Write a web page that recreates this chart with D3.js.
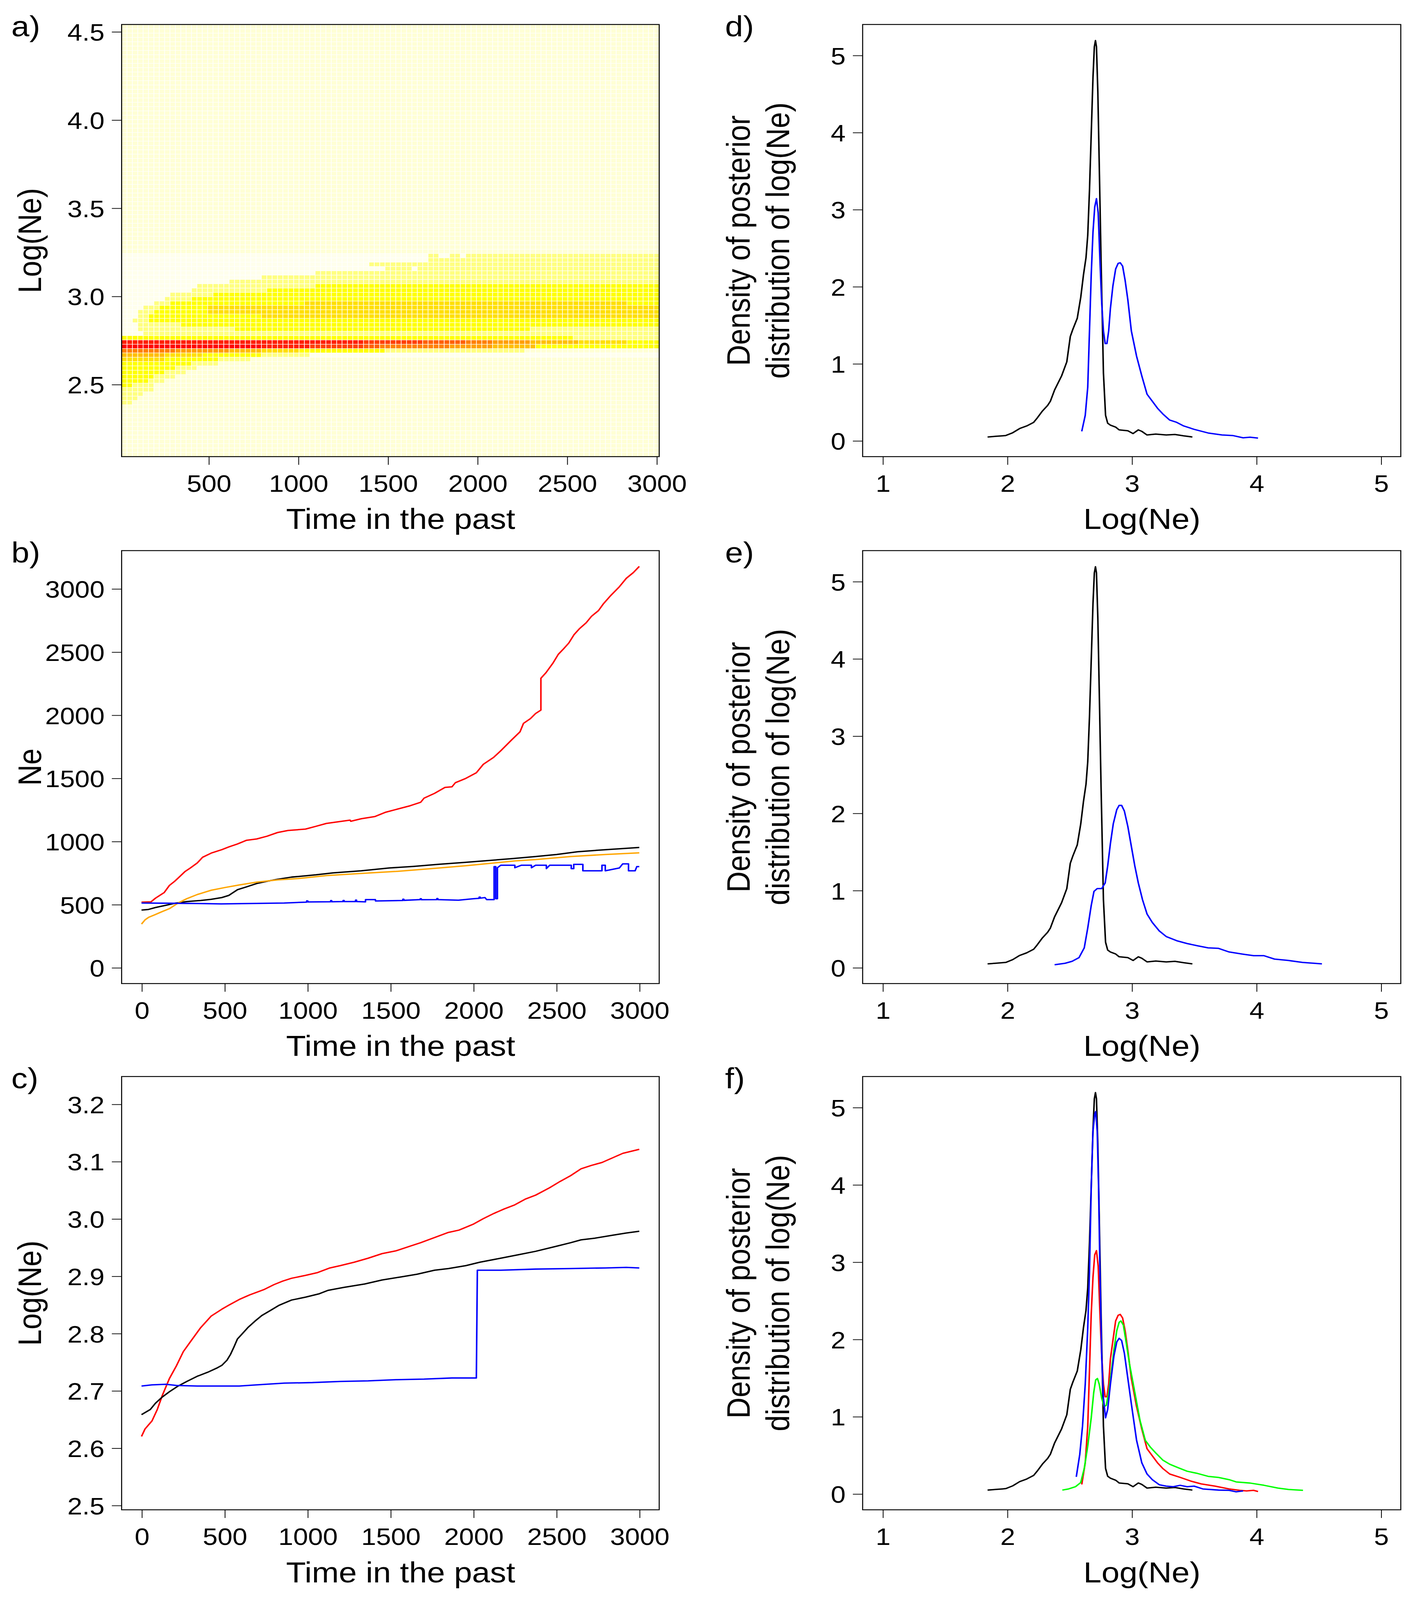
<!DOCTYPE html>
<html>
<head>
<meta charset="utf-8">
<script src="https://cdn.jsdelivr.net/npm/d3@7"></script>
<style>
  html, body { margin: 0; padding: 0; height: 100%; overflow: hidden; background: #fff; }
  #fig, svg { display: block; width: 100vw; height: 100vh; }
</style>
</head>
<body>
<div id="fig"></div>
<script>
// ---- data ----

// a) heat map: 100 time bins x 100 log(Ne) bins, colour level per cell (run-length per row)
const heatTimeFirst = 30, heatTimeStep = 30, heatNCols = 100;
const heatLogMin = 2.09, heatLogStep = 0.0245, heatNRows = 100;
const heatKeys   = ["w", "0", "1", "3", "4", "5", "6", "7", "8", "9", "a", "b"];
const heatColors = ["#FFFFEC", "#FFFFD5", "#FFFF80", "#FFFF00", "#FFDF00", "#FFBF00",
                    "#FF9F00", "#FF8000", "#FF6000", "#FF4000", "#FF2000", "#FF0000"];
const heatFirstRow = 12;
const heatRows = [
  "1*2 0*98",
  "1*3 0*97",
  "1*4 0*96",
  "1*6 0*94",
  "3*2 1*4 0*94",
  "3*5 1*3 0*92",
  "3*6 1*4 0*90",
  "3*8 1*4 0*88",
  "3*10 1*4 0*86",
  "3*13 1*5 0*82",
  "4*8 3*10 1*6 0*76",
  "5*8 4*7 3*11 1*9 w*65",
  "7*10 6*10 5*6 4*7 3*16 1*26 0*25",
  "b*26 a*9 9*10 8*3 7*13 6*8 5*8 3*23",
  "a*45 9*11 8*8 7*5 6*7 5*9 4*9 3*6",
  "3*84 1*16",
  "w*4 1*96",
  "w*3 1*18 3*55 1*24",
  "w*3 1*8 3*89",
  "w*2 1*3 3*95",
  "w*3 1*2 3*21 4*74",
  "w*3 1*3 3*10 4*84",
  "w*4 1*3 3*9 4*84",
  "w*6 1*3 3*25 4*60 3*6",
  "w*8 1*5 3*87",
  "w*9 1*8 3*83",
  "w*13 1*14 3*73",
  "w*14 1*22 3*64",
  "w*20 1*80",
  "w*26 1*74",
  "w*36 1*64",
  "w*49 1*5 w*1 1*45",
  "w*46 1*54",
  "w*57 1*43",
  "w*57 1*2 w*2 1*2 w*1 1*36"
];

// b) Ne through time
const bRed = [[0,518],[57,520],[84,549],[137,594],[168,650],[200,683],[231,721],[263,761],[294,788],[336,828],[368,873],[420,906],[484,933],[526,955],[578,978],[631,1007],[694,1018],[757,1040],[820,1069],[883,1085],[988,1096],[1051,1118],[1114,1141],[1198,1156],[1257,1167],[1261,1158],[1324,1178],[1408,1196],[1472,1230],[1535,1252],[1619,1281],[1682,1308],[1703,1341],[1766,1379],[1829,1426],[1871,1431],[1892,1464],[1955,1498],[2018,1542],[2060,1609],[2123,1665],[2165,1716],[2228,1799],[2281,1866],[2302,1933],[2344,1971],[2375,2011],[2407,2038],[2407,2290],[2438,2335],[2481,2413],[2512,2480],[2544,2524],[2575,2569],[2607,2636],[2638,2681],[2680,2730],[2712,2781],[2754,2826],[2785,2882],[2827,2944],[2880,3015],[2922,3082],[2964,3127],[3000,3176]];
const bBlack = [[0,455],[42,460],[84,475],[147,493],[210,511],[273,522],[357,531],[420,540],[484,554],[526,571],[578,616],[631,638],[694,665],[757,683],[820,699],[904,716],[1051,734],[1156,750],[1324,766],[1493,788],[1640,801],[1787,817],[1955,833],[2060,844],[2228,862],[2375,879],[2502,895],[2628,917],[2796,933],[3000,951]];
const bOrange = [[0,344],[21,377],[42,397],[84,420],[126,444],[168,466],[221,511],[273,545],[336,578],[420,612],[505,634],[589,654],[694,676],[820,694],[946,705],[1114,728],[1324,745],[1535,761],[1745,783],[1955,806],[2165,833],[2249,844],[2375,855],[2586,879],[2796,895],[3000,908]];
const bBlue = [[0,511],[270,508],[480,504],[860,511],[995,518],[995,528],[1002,528],[1002,519],[1140,521],[1140,530],[1146,530],[1146,521],[1215,522],[1215,531],[1221,531],[1221,522],[1290,522],[1290,534],[1296,534],[1296,522],[1350,520],[1350,538],[1410,538],[1410,527],[1575,531],[1575,541],[1581,541],[1581,532],[1680,538],[1680,545],[1686,545],[1686,537],[1780,538],[1780,546],[1786,546],[1786,538],[1910,533],[2000,545],[2035,548],[2035,558],[2041,558],[2041,549],[2070,554],[2080,538],[2125,538],[2125,799],[2135,799],[2135,545],[2145,545],[2145,790],[2165,810],[2250,810],[2250,790],[2290,810],[2350,810],[2350,790],[2375,810],[2440,810],[2440,783],[2460,810],[2590,810],[2590,783],[2605,783],[2605,817],[2660,817],[2660,766],[2775,766],[2775,810],[2795,810],[2795,766],[2880,788],[2900,821],[2935,821],[2935,766],[2975,766],[2985,799],[3000,799]];

// c) log(Ne) through time
const cRed = [[0,2.620],[21,2.633],[42,2.640],[63,2.647],[95,2.667],[126,2.692],[168,2.721],[210,2.743],[252,2.768],[294,2.785],[357,2.810],[420,2.830],[484,2.842],[526,2.849],[589,2.859],[652,2.867],[736,2.876],[799,2.885],[851,2.891],[904,2.896],[988,2.901],[1062,2.906],[1135,2.914],[1198,2.918],[1282,2.924],[1366,2.931],[1450,2.939],[1535,2.944],[1619,2.952],[1682,2.958],[1766,2.967],[1850,2.976],[1913,2.980],[1997,2.990],[2060,3.000],[2123,3.009],[2186,3.017],[2249,3.024],[2312,3.034],[2375,3.041],[2460,3.054],[2523,3.065],[2586,3.075],[2649,3.087],[2712,3.093],[2775,3.098],[2838,3.106],[2901,3.114],[3000,3.121]];
const cBlack = [[0,2.658],[53,2.667],[84,2.678],[126,2.689],[168,2.698],[221,2.708],[273,2.716],[336,2.725],[399,2.732],[452,2.739],[484,2.744],[515,2.753],[536,2.763],[557,2.776],[578,2.790],[610,2.800],[641,2.810],[683,2.821],[725,2.831],[778,2.840],[830,2.849],[904,2.858],[988,2.863],[1072,2.869],[1125,2.875],[1219,2.880],[1345,2.886],[1450,2.893],[1556,2.898],[1661,2.903],[1766,2.910],[1850,2.913],[1955,2.918],[2039,2.924],[2165,2.931],[2270,2.937],[2375,2.943],[2502,2.952],[2586,2.958],[2649,2.963],[2733,2.966],[2838,2.971],[2922,2.975],[3000,2.978]];
const cBlue = [[0,2.708],[63,2.710],[147,2.711],[210,2.709],[336,2.708],[484,2.708],[589,2.708],[694,2.710],[862,2.713],[1030,2.714],[1198,2.716],[1366,2.717],[1535,2.719],[1703,2.720],[1871,2.722],[2018,2.722],[2024,2.910],[2165,2.910],[2375,2.912],[2586,2.913],[2796,2.914],[2922,2.915],[3000,2.914]];

// d-f) posterior densities of log(Ne)
const densBlack = [[1.843,0.047],[1.905,0.055],[1.961,0.062],[1.989,0.066],[2.045,0.102],[2.101,0.157],[2.157,0.190],[2.213,0.237],[2.241,0.292],[2.283,0.383],[2.325,0.456],[2.347,0.511],[2.381,0.657],[2.437,0.839],[2.479,1.022],[2.507,1.350],[2.527,1.442],[2.563,1.588],[2.591,1.861],[2.613,2.153],[2.633,2.372],[2.647,2.664],[2.661,3.248],[2.675,3.978],[2.689,4.708],[2.700,5.109],[2.709,5.190],[2.717,5.109],[2.728,4.526],[2.739,3.613],[2.754,2.336],[2.773,0.876],[2.790,0.328],[2.807,0.226],[2.829,0.201],[2.871,0.175],[2.899,0.139],[2.969,0.128],[3.011,0.091],[3.053,0.139],[3.081,0.120],[3.123,0.073],[3.193,0.084],[3.277,0.073],[3.347,0.080],[3.417,0.062],[3.487,0.047]];
const dBlue = [[2.599,0.120],[2.627,0.328],[2.647,0.693],[2.661,1.423],[2.675,2.153],[2.689,2.701],[2.703,3.029],[2.717,3.139],[2.731,2.956],[2.745,2.336],[2.759,1.788],[2.773,1.423],[2.787,1.259],[2.801,1.259],[2.815,1.423],[2.829,1.715],[2.849,2.007],[2.871,2.226],[2.891,2.299],[2.908,2.307],[2.927,2.263],[2.947,2.080],[2.969,1.825],[2.997,1.423],[3.039,1.095],[3.081,0.839],[3.123,0.602],[3.165,0.511],[3.207,0.420],[3.249,0.347],[3.305,0.266],[3.361,0.237],[3.417,0.190],[3.501,0.146],[3.613,0.099],[3.725,0.073],[3.810,0.066],[3.894,0.036],[3.950,0.044],[4.014,0.033]];
const eBlue = [[2.381,0.036],[2.465,0.055],[2.521,0.080],[2.577,0.128],[2.619,0.255],[2.647,0.511],[2.675,0.803],[2.697,0.985],[2.723,1.022],[2.759,1.022],[2.787,1.095],[2.807,1.314],[2.829,1.606],[2.852,1.861],[2.880,2.044],[2.899,2.099],[2.919,2.099],[2.941,2.026],[2.969,1.825],[2.997,1.569],[3.025,1.314],[3.053,1.095],[3.087,0.876],[3.123,0.693],[3.165,0.584],[3.221,0.474],[3.277,0.401],[3.361,0.347],[3.445,0.310],[3.529,0.281],[3.613,0.255],[3.697,0.248],[3.782,0.201],[3.894,0.172],[3.978,0.153],[4.062,0.153],[4.146,0.109],[4.258,0.091],[4.370,0.066],[4.527,0.047]];
const fBlue = [[2.555,0.218],[2.583,0.509],[2.605,0.873],[2.627,1.418],[2.647,2.145],[2.661,2.873],[2.675,3.964],[2.689,4.691],[2.703,4.909],[2.711,4.945],[2.723,4.691],[2.734,3.964],[2.745,2.873],[2.759,1.782],[2.773,1.236],[2.790,0.982],[2.807,1.091],[2.829,1.418],[2.857,1.782],[2.880,1.964],[2.899,2.011],[2.919,1.982],[2.941,1.818],[2.969,1.491],[2.997,1.164],[3.039,0.691],[3.081,0.400],[3.123,0.255],[3.165,0.182],[3.221,0.116],[3.277,0.098],[3.333,0.091],[3.389,0.109],[3.445,0.091],[3.501,0.098],[3.571,0.062],[3.697,0.047],[3.782,0.044],[3.838,0.025],[3.894,0.036]];
const fRed = [[2.599,0.120],[2.627,0.400],[2.647,0.873],[2.661,1.600],[2.675,2.327],[2.689,2.800],[2.703,3.091],[2.717,3.145],[2.731,2.945],[2.745,2.327],[2.759,1.782],[2.773,1.418],[2.787,1.255],[2.801,1.255],[2.815,1.418],[2.829,1.745],[2.852,2.018],[2.871,2.236],[2.891,2.309],[2.908,2.320],[2.927,2.273],[2.947,2.109],[2.969,1.855],[2.997,1.491],[3.039,1.127],[3.081,0.836],[3.123,0.582],[3.165,0.491],[3.207,0.400],[3.249,0.327],[3.305,0.255],[3.389,0.211],[3.473,0.164],[3.557,0.127],[3.669,0.098],[3.782,0.062],[3.866,0.044],[3.922,0.036],[3.978,0.044],[4.014,0.029]];
const fGreen = [[2.443,0.047],[2.493,0.062],[2.549,0.091],[2.591,0.145],[2.619,0.327],[2.647,0.618],[2.675,0.982],[2.695,1.309],[2.711,1.473],[2.725,1.491],[2.739,1.418],[2.759,1.236],[2.779,1.127],[2.796,1.145],[2.815,1.309],[2.835,1.564],[2.857,1.855],[2.880,2.109],[2.899,2.218],[2.913,2.236],[2.933,2.182],[2.955,1.964],[2.983,1.673],[3.025,1.309],[3.067,0.945],[3.109,0.691],[3.151,0.600],[3.193,0.527],[3.249,0.436],[3.305,0.382],[3.375,0.335],[3.445,0.291],[3.529,0.262],[3.613,0.225],[3.697,0.211],[3.782,0.182],[3.838,0.153],[3.950,0.138],[4.062,0.109],[4.174,0.073],[4.258,0.055],[4.375,0.044]];

// tick labels
const heatTimeTicks = [500, 1000, 1500, 2000, 2500, 3000];
const heatLogTicks = [2.5, 3.0, 3.5, 4.0, 4.5];
const timeTicks = [0, 500, 1000, 1500, 2000, 2500, 3000];
const neTicks = [0, 500, 1000, 1500, 2000, 2500, 3000];
const logNeTicks = [2.5, 2.6, 2.7, 2.8, 2.9, 3.0, 3.1, 3.2];
const densXTicks = [1, 2, 3, 4, 5];
const densYTicks = [0, 1, 2, 3, 4, 5];

// ---- drawing ----
const W = 1245, H = 1568;
const FONT = '"Liberation Sans", Arial, Helvetica, sans-serif';
const TICK_FS = 23.5, LAB_FS = 28.5;
const LINE_W = 1.35, BOX_W = 0.9, TICK_W = 0.7;

// the whole figure is laid out in a 1245 x 1568 frame and scaled to fill the window
const svg = d3.select("#fig").append("svg")
  .attr("viewBox", `0 0 ${W} ${H}`)
  .attr("preserveAspectRatio", "none")
  .style("font-family", FONT);

svg.append("rect").attr("width", W).attr("height", H).attr("fill", "#fff");

const leftCol = {x0: 107, x1: 580}, rightCol = {x0: 759, x1: 1232.5};
const rows = [{y0: 24, y1: 447.5}, {y0: 539.6, y1: 963.9}, {y0: 1055, y1: 1479.6}];

function makePanel(col, row, xDomain, yDomain) {
  const box = {x0: col.x0, x1: col.x1, y0: row.y0, y1: row.y1};
  return {
    box,
    x: d3.scaleLinear().domain(xDomain).range([box.x0, box.x1]),
    y: d3.scaleLinear().domain(yDomain).range([box.y1, box.y0])
  };
}

function drawAxes(p, xTicks, yTicks, xFmt, yFmt) {
  const gx = svg.append("g")
    .attr("transform", `translate(0,${p.box.y1})`)
    .call(d3.axisBottom(p.x).tickValues(xTicks).tickFormat(d3.format(xFmt))
      .tickSize(8).tickPadding(9.7));
  const gy = svg.append("g")
    .attr("transform", `translate(${p.box.x0},0)`)
    .call(d3.axisLeft(p.y).tickValues(yTicks).tickFormat(d3.format(yFmt))
      .tickSize(8.6).tickPadding(6.4));
  [gx, gy].forEach(g => {
    g.select(".domain").remove();
    g.attr("font-size", TICK_FS).attr("font-family", FONT);
    g.selectAll("line").attr("stroke-width", TICK_W);
  });
  gy.selectAll("text").attr("dy", "0.36em");
}

function drawBox(p) {
  svg.append("rect")
    .attr("x", p.box.x0).attr("y", p.box.y0)
    .attr("width", p.box.x1 - p.box.x0).attr("height", p.box.y1 - p.box.y0)
    .attr("fill", "none").attr("stroke", "#000").attr("stroke-width", BOX_W);
}

function drawLine(p, data, color) {
  const line = d3.line().x(d => p.x(d[0])).y(d => p.y(d[1]));
  svg.append("path").datum(data)
    .attr("d", line)
    .attr("fill", "none").attr("stroke", color)
    .attr("stroke-width", LINE_W).attr("stroke-linejoin", "round");
}

function panelLabel(p, txt, x) {
  svg.append("text").attr("x", x).attr("y", p.box.y0 + 11.5)
    .attr("font-size", LAB_FS).text(txt);
}

function xTitle(p, txt) {
  svg.append("text")
    .attr("x", (p.box.x0 + p.box.x1) / 2 + 9).attr("y", p.box.y1 + 71)
    .attr("text-anchor", "middle").attr("font-size", LAB_FS).text(txt);
}

function yTitle(p, lines, baseX) {
  const cy = (p.box.y0 + p.box.y1) / 2;
  lines.forEach((txt, i) => {
    svg.append("text")
      .attr("transform", `translate(${baseX + i * 34.9},${cy}) rotate(-90)`)
      .attr("text-anchor", "middle").attr("font-size", LAB_FS).text(txt);
  });
}

// a) heat map
const pa = makePanel(leftCol, rows[0],
  [heatTimeFirst - heatTimeStep / 2, heatTimeFirst + (heatNCols - 0.5) * heatTimeStep],
  [heatLogMin, heatLogMin + heatNRows * heatLogStep]);

const heatColor = d3.scaleOrdinal().domain(heatKeys).range(heatColors);
const heatCells = [];
d3.range(heatNRows).forEach(r => {
  const rle = heatRows[r - heatFirstRow] || "0*100";
  const keys = [];
  rle.split(" ").forEach(tok => {
    const [k, n] = tok.split("*");
    for (let i = 0; i < +n; i++) keys.push(k);
  });
  d3.range(heatNCols).forEach(c => {
    heatCells.push({t: heatTimeFirst + c * heatTimeStep,
                    v: heatLogMin + r * heatLogStep,
                    k: keys[c] || "0"});
  });
});

svg.append("g").selectAll("rect").data(heatCells).join("rect")
  .attr("x", d => pa.x(d.t - heatTimeStep / 2) + 0.3)
  .attr("y", d => pa.y(d.v + heatLogStep) + 0.25)
  .attr("width", d => pa.x(d.t + heatTimeStep / 2) - pa.x(d.t - heatTimeStep / 2) - 0.6)
  .attr("height", d => pa.y(d.v) - pa.y(d.v + heatLogStep) - 0.5)
  .attr("fill", d => heatColor(d.k));

drawBox(pa);
drawAxes(pa, heatTimeTicks, heatLogTicks, "d", ".1f");
panelLabel(pa, "a)", 10);
xTitle(pa, "Time in the past");
yTitle(pa, ["Log(Ne)"], 36.2);

// b) Ne
const pb = makePanel(leftCol, rows[1], [-120, 3120], [-127, 3301]);
drawLine(pb, bRed, "#FF0000");
drawLine(pb, bBlack, "#000000");
drawLine(pb, bOrange, "#FFA500");
drawLine(pb, bBlue, "#0000FF");
drawBox(pb);
drawAxes(pb, timeTicks, neTicks, "d", "d");
panelLabel(pb, "b)", 10);
xTitle(pb, "Time in the past");
yTitle(pb, ["Ne"], 36.2);

// c) log(Ne)
const pc = makePanel(leftCol, rows[2], [-120, 3120], [2.492, 3.248]);
drawLine(pc, cRed, "#FF0000");
drawLine(pc, cBlack, "#000000");
drawLine(pc, cBlue, "#0000FF");
drawBox(pc);
drawAxes(pc, timeTicks, logNeTicks, "d", ".1f");
panelLabel(pc, "c)", 10);
xTitle(pc, "Time in the past");
yTitle(pc, ["Log(Ne)"], 36.2);

// d-f) densities
const densTitle = ["Density of posterior", "distribution of log(Ne)"];
const densSets = [
  {label: "d)", series: [[densBlack, "#000000"], [dBlue, "#0000FF"]]},
  {label: "e)", series: [[densBlack, "#000000"], [eBlue, "#0000FF"]]},
  {label: "f)", series: [[densBlack, "#000000"], [fRed, "#FF0000"], [fGreen, "#00FF00"], [fBlue, "#0000FF"]]}
];
densSets.forEach((set, i) => {
  const p = makePanel(rightCol, rows[i], [0.84, 5.16], [-0.208, 5.398]);
  set.series.forEach(([data, color]) => drawLine(p, data, color));
  drawBox(p);
  drawAxes(p, densXTicks, densYTicks, "d", "d");
  panelLabel(p, set.label, 638);
  xTitle(p, "Log(Ne)");
  yTitle(p, densTitle, 659.5);
});
</script>
</body>
</html>
